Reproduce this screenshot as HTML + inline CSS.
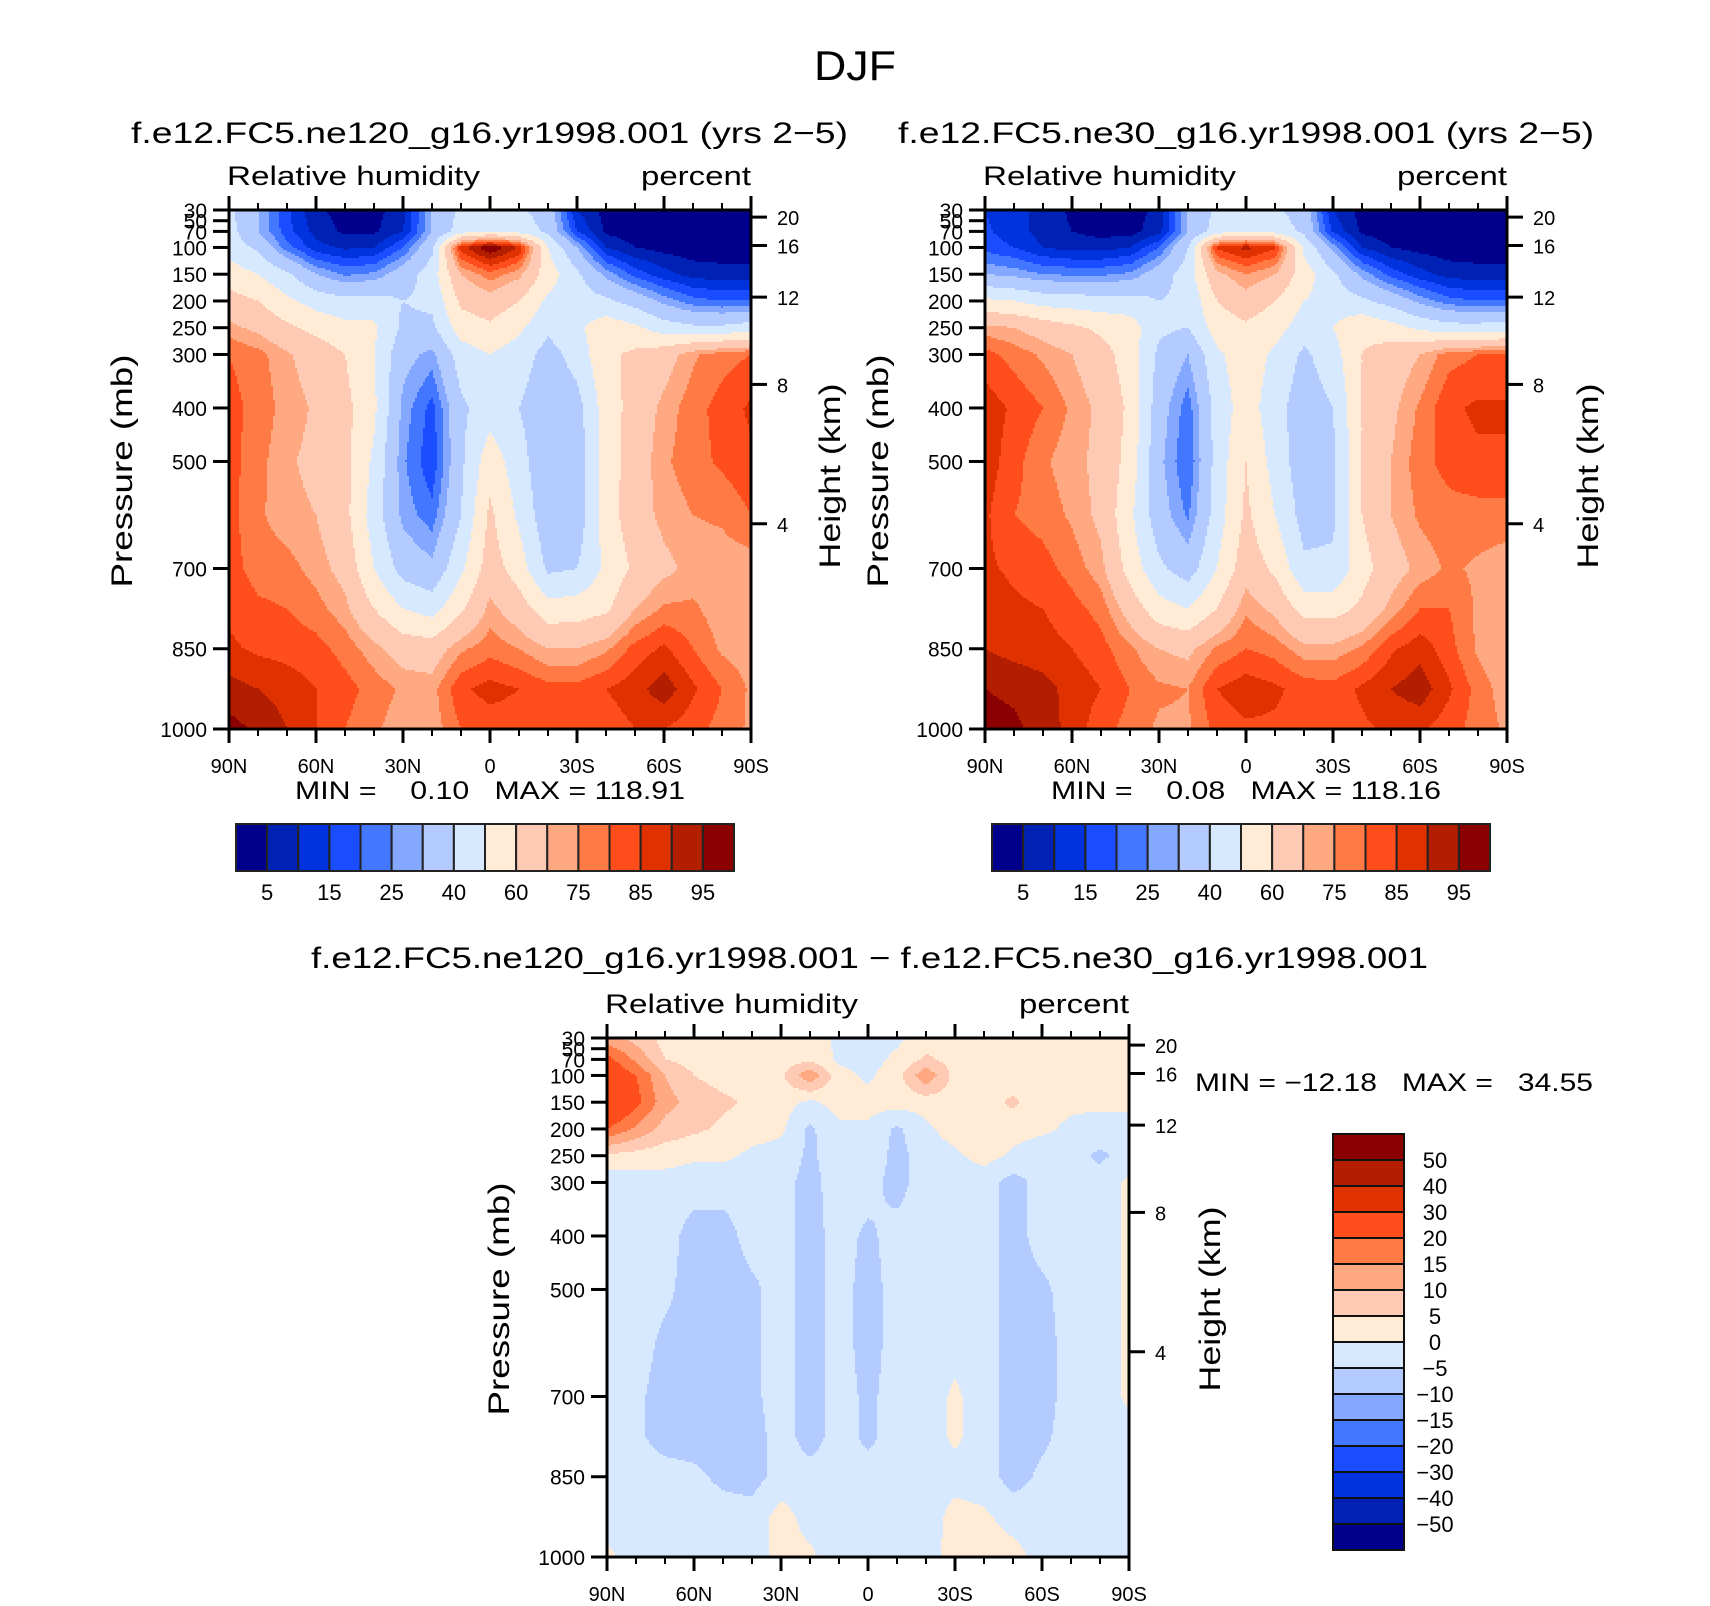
<!DOCTYPE html>
<html><head><meta charset="utf-8">
<style>
html,body{margin:0;padding:0;background:#fff;}
svg{display:block;font-family:"Liberation Sans",sans-serif;}
.pre{white-space:pre;}
</style></head>
<body>
<svg id="root" width="1710" height="1606" viewBox="0 0 1710 1606">
<g id="layer"></g>
</svg>
<script>
const lats = [90,80,70,60,50,40,30,20,10,0,-10,-20,-30,-40,-50,-60,-70,-80,-90];
const pLevels = [30,70,100,150,200,250,300,400,500,600,700,775,850,925,1000];
const rhLevels = [5,10,15,20,25,30,40,50,60,70,75,80,85,90,95];
const rhTickLabels = ["5","15","25","40","60","75","85","95"];
const diffLevels = [-50,-40,-30,-20,-15,-10,-5,0,5,10,15,20,30,40,50];
const diffTickLabels = ["50","40","30","20","15","10","5","0","\u22125","\u221210","\u221215","\u221220","\u221230","\u221240","\u221250"];
const palette = ["#00008c","#0022b4","#0033dd","#1a4dff","#4477ff","#84a8ff","#b4cbff","#d6e9ff","#ffebd6","#ffcab3","#ffa982","#ff7a45","#ff4e1c","#e03200","#b31e00","#8b0000"];
const pTicks = [30,50,70,100,150,200,250,300,400,500,700,850,1000];
const pTickLabels = ["30","50","70","100","150","200","250","300","400","500","700","850","1000"];
const kmTicks = [4,8,12,16,20];
const latTicks = [90,60,30,0,-30,-60,-90];
const latTickLabels = ["90N","60N","30N","0","30S","60S","90S"];

const rh1 = [
[42,30,16,6,3,3,8,30,42,45,42,35,10,3,2,2,2,2,2],
[44,30,17,8,4,4,10,30,45,50,46,38,15,4,2,2,2,2,2],
[46,38,22,12,9,10,20,38,88,100,90,50,30,10,5,3,2,2,2],
[55,50,42,30,24,26,35,45,70,78,72,55,42,28,18,12,8,7,7],
[64,60,52,46,43,44,40,42,62,66,60,48,45,42,36,28,22,20,20],
[72,68,62,57,53,52,38,38,55,58,52,42,48,56,52,45,42,42,45],
[80,77,71,66,60,50,33,28,45,50,45,36,44,58,62,66,74,78,80],
[82,78,73,69,63,52,28,18,38,45,40,33,36,55,64,72,78,82,86],
[82,77,71,68,63,48,26,16,38,56,44,32,34,55,65,74,78,81,84],
[82,76,72,70,63,45,28,22,40,62,48,33,34,55,66,72,75,76,80],
[82,78,77,73,67,50,36,32,48,65,55,38,40,52,62,68,72,72,72],
[84,81,80,77,72,60,50,46,58,72,65,54,55,58,70,76,76,72,70],
[86,84,83,82,78,72,66,65,74,78,75,70,70,74,82,86,80,74,72],
[92,90,88,85,82,78,74,73,84,87,85,82,82,85,88,93,86,80,74],
[97,94,90,85,80,76,72,72,80,82,82,80,80,82,85,85,82,78,74]];

const rh2 = [
[15,12,8,4,3,3,6,30,42,45,42,35,10,3,2,2,2,2,2],
[16,12,8,5,3,3,8,30,45,50,46,38,14,4,2,2,2,2,2],
[18,15,10,8,8,10,20,40,86,92,86,48,28,10,5,3,2,2,2],
[30,28,25,24,24,26,35,45,68,75,70,55,42,28,18,12,8,7,7],
[52,50,46,45,44,44,40,42,60,66,60,50,46,42,36,28,22,20,20],
[72,70,66,62,58,55,42,40,55,58,54,45,50,58,54,48,44,44,46],
[82,78,74,70,64,55,38,30,48,56,48,38,46,60,65,70,78,80,80],
[88,84,80,74,68,58,34,22,44,55,44,34,40,60,68,76,84,86,86],
[88,82,76,72,68,56,32,20,44,60,46,34,38,60,70,78,82,84,84],
[86,80,78,74,68,52,34,24,45,62,50,36,38,60,70,76,78,78,78],
[86,84,82,78,72,56,42,35,50,66,58,42,42,56,66,72,76,74,72],
[88,86,85,82,78,66,54,50,60,74,68,56,56,62,72,80,80,74,70],
[90,88,87,85,82,76,70,68,76,80,78,72,72,76,84,88,82,74,70],
[95,94,92,88,85,80,76,75,85,88,86,83,82,86,90,93,86,78,72],
[97,96,93,88,82,78,74,74,82,84,84,82,82,84,86,86,82,78,74]];

const rhDiff = [
[12,8,3,2,2,2,2,2,-1,-1,-1,2,2,2,2,2,2,2,2],
[22,14,5,3,3,2,2,4,-1,-2,1,6,3,2,2,2,2,2,2],
[26,20,10,5,3,3,4,14,2,-1,3,14,3,2,2,2,2,2,2],
[30,22,12,8,6,4,2,-1,2,2,2,2,3,3,6,2,1,1,1],
[20,14,8,6,4,2,1,-6,-1,-1,-6,-1,2,4,2,1,-1,-2,-2],
[4,3,2,1,1,-1,-2,-6,-2,-1,-7,-2,-1,2,-1,-3,-3,-6,-3],
[-3,-3,-2,-3,-3,-3,-3,-7,-2,-3,-7,-2,-3,-3,-7,-3,-3,-3,1],
[-3,-3,-3,-7,-7,-3,-3,-7,-3,-6,-3,-3,-3,-3,-7,-3,-3,-3,1],
[-3,-3,-4,-7,-8,-6,-3,-7,-3,-7,-3,-3,-3,-3,-7,-6,-3,-3,1],
[-3,-3,-6,-7,-7,-6,-3,-7,-3,-7,-3,-3,-2,-3,-7,-7,-3,-3,1],
[-3,-4,-7,-7,-7,-6,-3,-7,-3,-6,-3,-3,1,-3,-7,-7,-3,-3,1],
[-3,-4,-7,-7,-7,-7,-3,-7,-3,-6,-3,-3,1,-3,-7,-6,-3,-3,-2],
[-3,-3,-3,-4,-6,-7,-3,-3,-3,-3,-3,-3,-2,-3,-7,-4,-3,-3,-2],
[-2,-3,-3,-3,-3,-3,2,-2,-3,-3,-3,-3,2,1,-2,-3,-3,-3,-2],
[1,-2,-3,-3,-3,-3,2,1,-3,-3,-3,-2,2,2,2,-2,-3,-3,-2]];

const NS = "http://www.w3.org/2000/svg";
const layer = document.getElementById("layer");
function mk(tag, attrs, parent){const e=document.createElementNS(NS,tag);for(const k in attrs)e.setAttribute(k,attrs[k]);(parent||layer).appendChild(e);return e;}
function txt(s, attrs, parent){const e=mk("text",attrs,parent);e.textContent=s;return e;}

function colorFor(v, levels){let i=0;while(i<levels.length && v>=levels[i])i++;return palette[i];}
function kmToP(h){return 1013.25*Math.pow(1-2.25577e-5*h*1000,5.25588);}
function sample(data, lat, p){
  let j=0; while(j<lats.length-2 && lat<lats[j+1]) j++;
  const tx=(lats[j]-lat)/(lats[j]-lats[j+1]);
  let i=0; while(i<pLevels.length-2 && p>pLevels[i+1]) i++;
  const ty=Math.min(1,Math.max(0,(p-pLevels[i])/(pLevels[i+1]-pLevels[i])));
  const a=data[i][j],b=data[i][j+1],c=data[i+1][j],d=data[i+1][j+1];
  return (a*(1-tx)+b*tx)*(1-ty)+(c*(1-tx)+d*tx)*ty;
}

function drawPlot(name, data, levels, L, T, W, H){
  const g = mk("g",{});
  
  
  const xOf = lat => L + (90-lat)/180*W;
  const yOf = p => T + (p-30)/970*H;
  const latOf = x => 90 - (x-L)/W*180;
  const pOf = y => 30 + (y-T)/H*970;
  const step=2;
  const cells = mk("g",{},g);
  
  
  for(let y=T;y<T+H;y+=step){
    const hh=Math.min(step,T+H-y);
    let runStart=L, runCol=null;
    for(let x=L;x<=L+W;x+=step){
      let col=null;
      if(x<L+W){col=colorFor(sample(data,latOf(x+step/2),pOf(y+hh/2)),levels);}
      if(col!==runCol){
        if(runCol!==null){
          const r=mk("rect",{x:runStart,y:y,width:Math.min(x,L+W)-runStart+0.5,height:hh+0.5,fill:runCol},cells);
          
          
        }
        runStart=x; runCol=col;
      }
    }
  }
  const fr=mk("rect",{x:L,y:T,width:W,height:H,fill:"none",stroke:"#000","stroke-width":3},g);
  
  
  for(let lat=90;lat>=-90;lat-=10){
    const x=xOf(lat); const major=(lat%30===0);
    const len=major?14:7;
    mk("line",{x1:x,y1:T,x2:x,y2:T-len,stroke:"#000","stroke-width":major?3:2},g);
    mk("line",{x1:x,y1:T+H,x2:x,y2:T+H+len,stroke:"#000","stroke-width":major?3:2},g);
  }
  latTicks.forEach((lat,k)=>{
    const t=txt(latTickLabels[k],{x:xOf(lat),y:T+H+44,"font-size":20,"text-anchor":"middle"},g);
    
    
  });
  pTicks.forEach((p,k)=>{
    const y=yOf(p);
    mk("line",{x1:L,y1:y,x2:L-16,y2:y,stroke:"#000","stroke-width":3},g);
    const t=txt(pTickLabels[k],{x:L-22,y:y+8,"font-size":21,"text-anchor":"end"},g);
    
    
  });
  kmTicks.forEach(h=>{
    const y=yOf(kmToP(h));
    mk("line",{x1:L+W,y1:y,x2:L+W+16,y2:y,stroke:"#000","stroke-width":3},g);
    const t=txt(String(h),{x:L+W+26,y:y+8,"font-size":20},g);
    
    
  });
  return g;
}

function hColorbar(name, L, T, W, H, labels){
  const g=mk("g",{});
  
  
  const bw=W/palette.length;
  palette.forEach((c,i)=>{
    const r=mk("rect",{x:L+i*bw,y:T,width:bw,height:H,fill:c,stroke:"#222","stroke-width":2},g);
    
    
  });
  labels.forEach((s,k)=>{
    const t=txt(s,{x:L+(2*k+1)*bw,y:T+H+29,"font-size":22,"text-anchor":"middle"},g);
    
    
  });
}
function vColorbar(name, L, T, W, H, labels){
  const g=mk("g",{});
  
  
  const bh=H/palette.length;
  for(let i=0;i<palette.length;i++){
    const r=mk("rect",{x:L,y:T+i*bh,width:W,height:bh,fill:palette[palette.length-1-i],stroke:"#111","stroke-width":2},g);
    
    
  }
  labels.forEach((s,k)=>{
    const t=txt(s,{x:L+W+31,y:T+(k+1)*bh+8,"font-size":22,"text-anchor":"middle"},g);
    
    
  });
}

drawPlot("plot-ne120", rh1, rhLevels, 229, 210, 522, 519);
drawPlot("plot-ne30", rh2, rhLevels, 985, 210, 522, 519);
drawPlot("plot-difference", rhDiff, diffLevels, 607, 1038, 522, 519);
hColorbar("colorbar-ne120", 236, 824, 498, 47, rhTickLabels);
hColorbar("colorbar-ne30", 992, 824, 498, 47, rhTickLabels);
vColorbar("colorbar-difference", 1333, 1134, 71, 416, diffTickLabels);

function label(s, name, attrs){const t=txt(s,attrs);return t;}
label("DJF","main-title",{x:855,y:80,"font-size":42,"text-anchor":"middle",textLength:82,lengthAdjust:"spacingAndGlyphs"});
label("f.e12.FC5.ne120_g16.yr1998.001 (yrs 2\u22125)","title-ne120",{x:131,y:143,"font-size":30,textLength:717,lengthAdjust:"spacingAndGlyphs"});
label("f.e12.FC5.ne30_g16.yr1998.001 (yrs 2\u22125)","title-ne30",{x:898,y:143,"font-size":30,textLength:696,lengthAdjust:"spacingAndGlyphs"});
label("f.e12.FC5.ne120_g16.yr1998.001 \u2212 f.e12.FC5.ne30_g16.yr1998.001","title-difference",{x:311,y:968,"font-size":30,textLength:1117,lengthAdjust:"spacingAndGlyphs"});
[[227,751,185],[983,1507,185],[605,1129,1013]].forEach((a,k)=>{
  label("Relative humidity","variable-label",{x:a[0],y:a[2],"font-size":27,textLength:253,lengthAdjust:"spacingAndGlyphs"});
  label("percent","units-label",{x:a[1],y:a[2],"font-size":27,"text-anchor":"end",textLength:110,lengthAdjust:"spacingAndGlyphs"});
});
label("MIN =    0.10   MAX = 118.91","minmax-ne120",{x:295,y:799,"font-size":25,"class":"pre",textLength:390,lengthAdjust:"spacingAndGlyphs"});
label("MIN =    0.08   MAX = 118.16","minmax-ne30",{x:1051,y:799,"font-size":25,"class":"pre",textLength:390,lengthAdjust:"spacingAndGlyphs"});
label("MIN = \u221212.18   MAX =   34.55","minmax-difference",{x:1195,y:1091,"font-size":25,"class":"pre",textLength:398,lengthAdjust:"spacingAndGlyphs"});
[[122,471],[878,471],[499,1299]].forEach(a=>{
  label("Pressure (mb)","y-axis-title",{x:a[0],y:a[1],"font-size":30,"text-anchor":"middle",transform:`rotate(-90 ${a[0]} ${a[1]})`,dy:10,textLength:233,lengthAdjust:"spacingAndGlyphs"});
});
[[830,476],[1588,476],[1210,1299]].forEach(a=>{
  label("Height (km)","y2-axis-title",{x:a[0],y:a[1],"font-size":30,"text-anchor":"middle",transform:`rotate(-90 ${a[0]} ${a[1]})`,dy:10,textLength:185,lengthAdjust:"spacingAndGlyphs"});
});
</script>
</body></html>
